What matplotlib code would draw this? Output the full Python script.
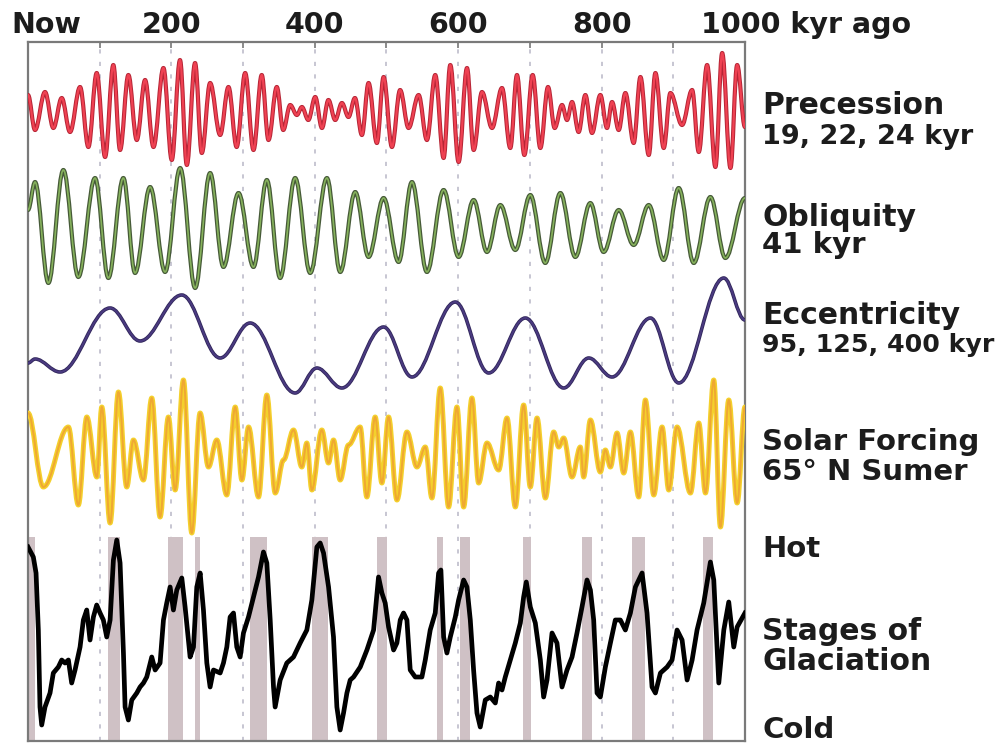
import matplotlib
matplotlib.use("Agg")
import matplotlib.pyplot as plt
import matplotlib.patheffects as pe
from matplotlib.path import Path
from matplotlib.patches import PathPatch

# ---- data (kyr ago, value) ----
# precession: turning points
prec_t = [0, 9.8, 23.7, 35.4, 47, 58.6, 72.6, 84.2, 95.8, 107.5, 119, 128.4, 140, 151.7,
          163.3, 175, 188.9, 200.5, 212, 221.5, 233, 242.4, 254, 268, 279.6, 291, 302.9,
          314.5, 326, 335.4, 347, 356, 365.7, 375, 382, 391, 400.6, 410, 419, 428.5, 437.8,
          447, 456, 465.7, 475, 486.6, 496, 507.6, 519, 530.8, 544.8, 556.4, 568, 579.7,
          589, 600.6, 612.3, 621.6, 633.2, 647.2, 661.1, 672.7, 682, 692.3, 703.9, 714.6,
          725.3, 734.6, 744.9, 751.8, 758.8, 768, 777.4, 786.7, 798.3, 807.6, 814.6, 823.9,
          833.2, 844.8, 854.2, 865.8, 875.1, 886.7, 896, 912.3, 926.3, 935.6, 947.2, 958.8,
          968.2, 979.8, 989.1, 1000]
prec_v = [15, -20, 18, -18, 12, -22, 23, -37, 37, -47, 45, -40, 35, -30,
          30, -37, 42, -50, 50, -55, 47, -43, 27, -25, 23, -37, 37,
          -40, 35, -30, 23, -20, 5, -5, 3, -10, 13, -18, 10, -10, 7,
          -7, 12, -25, 27, -33, 33, -37, 20, -18, 15, -30, 35, -48,
          45, -52, 42, -40, 18, -18, 22, -38, 35, -45, 35, -38,
          23, -18, 5, -10, 8, -22, 15, -23, 15, -18, 8, -20,
          17, -33, 33, -45, 37, -38, 17, -15, 20, -42, 45, -57,
          57, -58, 45, -17]

# obliquity
obl_t = [0, 9.8, 28.4, 49.3, 70.2, 93.5, 112.1, 133, 149.3, 170.3, 191.2, 212.2, 233.1,
         254, 272.6, 293.6, 314.5, 333.1, 351.7, 372.6, 393.6, 416.9, 435.5, 456.4, 475,
         496, 516.9, 535.5, 556.4, 579.7, 600.6, 621.6, 640.2, 658.8, 679.7, 700.6, 721.5,
         742.5, 763.4, 784.3, 802.9, 823.9, 844.8, 865.8, 886.7, 907.6, 928.6, 951.8,
         972.7, 1000]
obl_v = [18, 46, -55, 58, -49, 50, -50, 50, -45, 41, -44, 60, -60,
         55, -39, 35, -39, 48, -50, 50, -45, 50, -44, 36, -29,
         30, -34, 46, -44, 38, -29, 28, -24, 23, -22, 33, -35,
         35, -29, 25, -24, 18, -17, 23, -32, 40, -35, 31,
         -30, 30]

# eccentricity
ecc_t = [0, 9.8, 44.7, 114.5, 156.3, 214.5, 268, 309.8, 372.6, 402.9, 437.8, 496,
         535.5, 596, 642.5, 693.7, 747.2, 782.1, 814.6, 868.2, 907.7, 970.5, 1000]
ecc_v = [-23, -19, -32, 32, -1, 45, -18, 17, -53, -28, -48, 13,
         -37, 38, -33, 22, -48, -18, -37, 22, -43, 62, 20]

# solar forcing 65N summer
sol_t = [0, 21.4, 56.3, 70.2, 82, 96, 102.9, 114.5, 126.1, 137.7, 147, 161, 172.6, 184.2,
         195.8, 205.2, 216.8, 228.4, 240, 251.7, 263.3, 277.2, 289, 298.3, 307.6, 321.5,
         333.1, 344.8, 356.4, 370.3, 381.9, 388.9, 395.9, 409.8, 419.1, 426.1, 435.4, 447,
         463.3, 472.6, 484.2, 493.6, 502.9, 514.6, 528.5, 542.5, 554.1, 563.4, 575, 586.6,
         598.3, 607.6, 619.2, 628.5, 640.2, 656.5, 668.1, 679.7, 691.3, 700.6, 710, 721.6,
         733.2, 740.2, 747.1, 758.8, 770.4, 775, 784.4, 798.3, 805.3, 812.3, 821.6, 830.9,
         840.2, 851.8, 861.1, 872.8, 884.4, 893.7, 905.3, 924, 935.6, 944.9, 956.5, 965.8,
         977.4, 989.1, 1000]
sol_v = [32, -42, 18, -60, 28, -32, 38, -78, 53, -42, 5, -35, 47, -72,
         28, -45, 65, -88, 32, -22, 5, -50, 38, -35, 18, -52,
         50, -48, -15, 15, -22, 2, -45, 15, -18, 5, -35, 0,
         18, -52, 28, -38, 28, -55, 13, -22, -2, -53, 57, -62,
         38, -62, 47, -38, 2, -25, 27, -62, 40, -42, 27, -53,
         13, -2, 7, -32, -2, -32, 25, -27, -5, -22, 12, -28,
         13, -52, 45, -50, 18, -45, 18, -48, 22, -48, 65, -82,
         45, -58, 38]

# stages of glaciation (height, cold = low, hot = high)
gla_t = [0, 7.4, 11.2, 14.4, 16.7, 19.1, 23.7, 30.7, 35.3, 42.3, 47, 51.6, 56.3, 60.9,
         65.6, 72.6, 77.2, 81.9, 86.5, 91.2, 95.8, 100.5, 105.1, 109.8, 114.5, 119.1,
         123.8, 128.4, 133.1, 135.4, 140, 144.7, 151.7, 156.3, 161, 165.6, 172.6, 177.3,
         184.2, 188.9, 193.5, 198.2, 202.8, 207.5, 214.5, 219.1, 223.8, 226.1, 230.8,
         235.4, 240.1, 244.7, 249.4, 254, 258.7, 268, 272.6, 277.3, 281.9, 286.6, 291.2,
         295.9, 300.5, 307.5, 314.5, 321.5, 328.4, 333.1, 337.8, 342.4, 344.7, 351.7, 361,
         370.3, 379.6, 388.9, 395.9, 402.9, 407.5, 412.2, 419.2, 426.1, 430.8, 435.4,
         440.1, 444.8, 449.4, 454.1, 463.4, 472.7, 482, 488.9, 493.6, 498.2, 502.9,
         509.9, 514.5, 519.2, 523.8, 528.5, 533.1, 540.1, 549.4, 554.1, 561, 568, 572.7,
         575.9, 579.7, 584.3, 589, 596, 600.6, 607.6, 612.2, 616.9, 621.5, 626.2, 630.8,
         637.8, 644.8, 651.8, 656.4, 661.1, 665.7, 672.7, 679.7, 686.7, 691.3, 695, 700.6,
         707.6, 714.6, 719.2, 723.9, 730.9, 737.8, 744.8, 751.8, 758.8, 765.7, 772.7,
         779.7, 784.4, 789, 793.7, 798.3, 805.3, 812.3, 819.2, 826.2, 833.2, 840.2, 847.2,
         856.5, 863.4, 870.4, 875.1, 882.1, 891.4, 898.3, 905.3, 912.3, 919.3, 926.3,
         933.2, 942.5, 951.8, 956.5, 963.5, 970.5, 977.4, 984.4, 989.1, 1000]
gla_v = [194, 184, 168, 111, 34, 16, 34, 48, 68, 74, 81, 78, 81, 58,
         71, 94, 121, 131, 101, 124, 136, 128, 121, 104, 121, 181,
         201, 178, 88, 34, 21, 41, 48, 54, 58, 64, 84, 71,
         78, 121, 138, 154, 131, 151, 163, 134, 101, 84, 94,
         154, 168, 131, 78, 54, 71, 68, 78, 94, 124, 128, 94,
         84, 108, 124, 144, 164, 189, 178, 121, 54, 34, 61, 78,
         84, 98, 111, 141, 194, 198, 188, 154, 104, 34, 11,
         28, 48, 61, 64, 74, 91, 111, 164, 148, 138, 114,
         91, 98, 121, 128, 121, 71, 64, 64, 81, 111, 128, 168,
         171, 104, 88, 104, 124, 141, 161, 154, 121, 71, 28, 14,
         41, 44, 38, 58, 51, 64, 81, 98, 118, 144, 159, 134,
         118, 81, 44, 61, 108, 98, 54, 71, 84, 108, 134,
         161, 151, 121, 48, 44, 74, 98, 121, 121, 111, 128, 154,
         168, 128, 54, 48, 68, 74, 81, 111, 101, 61, 81,
         111, 138, 179, 161, 58, 111, 139, 94, 114, 128]

# warm stages (shaded bands), kyr ago
warm_start = [0, 112, 195, 233, 310, 396, 487, 571, 603, 691, 773, 843, 941]
warm_end = [10, 128, 216, 240, 334, 419, 501, 579, 617, 702, 786, 861, 956]


def smooth_path(t, v, off):
    # cubic segments with flat tangents at each turning point
    verts = [(t[0], v[0] + off)]
    codes = [Path.MOVETO]
    for i in range(len(t) - 1):
        d = t[i + 1] - t[i]
        verts += [(t[i] + 0.364 * d, v[i] + off),
                  (t[i + 1] - 0.364 * d, v[i + 1] + off),
                  (t[i + 1], v[i + 1] + off)]
        codes += [Path.CURVE4] * 3
    return Path(verts, codes)


def add_curve(t, v, off, inner, outer, lw, lw_out):
    p = PathPatch(smooth_path(t, v, off), fill=False, ec=inner, lw=lw, zorder=3,
                  capstyle="round", joinstyle="round")
    p.set_path_effects([pe.Stroke(linewidth=lw_out, foreground=outer), pe.Normal()])
    ax.add_patch(p)


fig = plt.figure(figsize=(9.97, 7.5), dpi=100)
ax = fig.add_axes([0.0281, 0.012, 0.7191, 0.932])
ax.set_xlim(0, 1000)
ax.set_ylim(0, 699)

for s, e in zip(warm_start, warm_end):
    ax.fill_between([s, e], 0, 204, color="#cfc1c5", lw=0, zorder=1)

for x in range(100, 1000, 100):
    ax.axvline(x, color="#bdbccb", ls=(0, (2.5, 5)), lw=1.2, zorder=0.5)

add_curve(prec_t, prec_v, 631, "#ef4152", "#b52535", 1.6, 3.0)
add_curve(obl_t, obl_v, 513, "#86b25c", "#465a38", 1.2, 3.0)
add_curve(ecc_t, ecc_v, 401, "#4a3a80", "#30265a", 1.4, 2.6)
add_curve(sol_t, sol_v, 296, "#efa832", "#f4d02c", 1.4, 3.6)
ax.plot(gla_t, gla_v, color="black", lw=3.4, zorder=3, solid_joinstyle="round")

ax.set_xticks(range(0, 1001, 100))
ax.set_yticks([])
ax.tick_params(axis="x", top=True, bottom=False, labeltop=False, labelbottom=False,
               direction="in", length=4, width=1.2, color="#777777")
for sp in ax.spines.values():
    sp.set_color("#7a7a7a")
    sp.set_linewidth(1.6)

lab = dict(fontweight="bold", color="#1c1c1c", family="DejaVu Sans")
xt = ax.get_xaxis_transform()
for x, s in [(25, "Now"), (200, "200"), (400, "400"), (600, "600"), (800, "800")]:
    ax.text(x, 1.005, s, transform=xt, ha="center", va="bottom", fontsize=20.5, **lab)
ax.text(939, 1.005, "1000 kyr ago", transform=xt, ha="left", va="bottom",
        fontsize=20.5, **lab)

right = [("Precession", 105, 21.5), ("19, 22, 24 kyr", 137, 19.5), ("Obliquity", 218, 21.5),
         ("41 kyr", 245, 21), ("Eccentricity", 316, 21.5), ("95, 125, 400 kyr", 345, 18.2),
         ("Solar Forcing", 442, 21), ("65° N Sumer", 472, 21), ("Hot", 549, 21),
         ("Stages of", 632, 21.5), ("Glaciation", 661, 21.5), ("Cold", 730, 21)]
for s, y, fs in right:
    fig.text(762 / 997, 1 - y / 750, s, ha="left", va="center", fontsize=fs, **lab)

fig.savefig("out.png", dpi=100)
